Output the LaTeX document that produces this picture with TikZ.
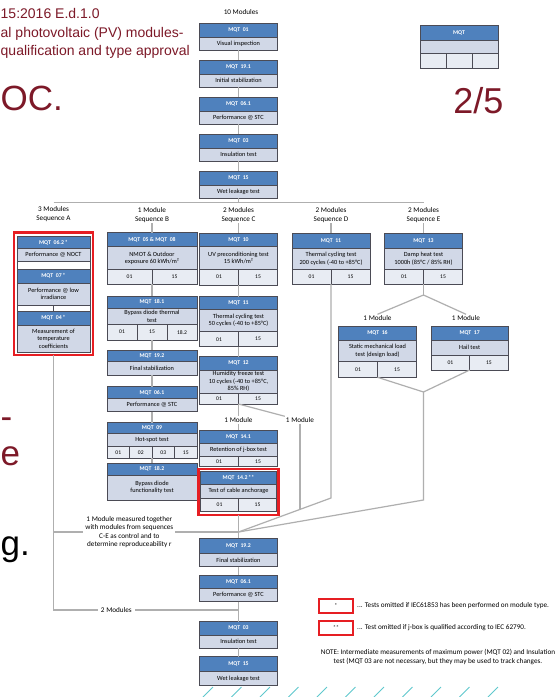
\documentclass[tikz,border=0pt]{standalone}
\usepackage{fontspec}
\setmainfont{Carlito}
\newfontfamily\slidefont{Liberation Sans}
\usetikzlibrary{positioning}

\definecolor{mqtblue}{RGB}{79,129,189}
\definecolor{mqtbody}{RGB}{209,216,231}
\definecolor{mqtcell}{RGB}{232,236,243}
\definecolor{mqtline}{RGB}{75,75,85}
\definecolor{linkgray}{RGB}{175,175,175}
\definecolor{omitred}{RGB}{230,30,35}
\definecolor{slidered}{RGB}{125,25,40}
\definecolor{stripe}{RGB}{95,200,205}

\newcommand\mqthdrfont{\fontsize{5.8}{6.4}\selectfont\bfseries}
\newcommand\mqtbodyfont{\fontsize{6.3}{7.3}\selectfont}
\newcommand\mqtcellfont{\fontsize{5.6}{6.2}\selectfont}
\newcommand\mqtlblfont{\fontsize{7.2}{8.4}\selectfont}

\tikzset{
  hdr/.style={draw=mqtline, line width=0.6pt, fill=mqtblue, text=white, font=\mqthdrfont,
    minimum width=#1, inner sep=0pt, outer sep=0pt},
  body/.style={draw=mqtline, line width=0.6pt, fill=mqtbody, font=\mqtbodyfont, align=center,
    minimum width=#1, inner sep=0pt, outer sep=0pt},
  cell/.style={draw=mqtline, line width=0.6pt, fill=mqtcell, font=\mqtcellfont,
    minimum width=#1, inner sep=0pt, outer sep=0pt},
  blank/.style={cell=#1, fill=white},
  lbl/.style={font=\mqtlblfont, align=center, inner sep=1pt},
  link/.style={draw=linkgray, line width=1.2pt},
  omitbox/.style={draw=omitred, line width=2.2pt, inner sep=0pt, outer sep=0pt},
  slide/.style={font=\slidefont, text=slidered, inner sep=0pt},
}

\begin{document}
\begin{tikzpicture}[x=1pt,y=-1pt]
\fill[white] (0,0) rectangle (560,697);
\useasboundingbox (0,0) rectangle (560,697);

% slide text behind the chart
\node[slide, font=\slidefont\fontsize{14}{16}\selectfont, anchor=base west] (hd1) at (0.5,18) {15:2016 E.d.1.0};
\node[slide, font=\slidefont\fontsize{14}{16}\selectfont, anchor=base west] (hd2) at (0.5,37) {al photovoltaic (PV) modules-};
\node[slide, font=\slidefont\fontsize{14}{16}\selectfont, anchor=base west] (hd3) at (0.5,55) {qualification and type approval};
\node[slide, font=\slidefont\fontsize{35}{40}\selectfont, anchor=base west] (hd4) at (0.5,110) {OC.};
\node[slide, font=\slidefont\fontsize{36}{40}\selectfont, anchor=base east] (page) at (503.5,113) {2/5};
\node[slide, font=\slidefont\fontsize{35}{40}\selectfont, anchor=base west] (cut1) at (0.5,428) {-};
\node[slide, font=\slidefont\fontsize{35}{40}\selectfont, anchor=base west] (cut2) at (0.5,465) {e};
\node[slide, font=\slidefont\fontsize{35}{40}\selectfont, text=black, anchor=base west] (cut3) at (0.5,555) {g.};

% legend box
\node[hdr=78pt, minimum height=15pt, anchor=north] (lg) at (459,25) {MQT};
\node[body=78pt, minimum height=13.3pt, below=0pt of lg] (lgb) {};
\node[cell=26pt, minimum height=15pt, anchor=north west] (lgc1) at (lgb.south west) {};
\node[cell=26pt, minimum height=15pt, right=0pt of lgc1] (lgc2) {};
\node[cell=26pt, minimum height=15pt, right=0pt of lgc2] (lgc3) {};

% common start
\node[lbl] (lab10) at (241,12) {10 Modules};
\node[hdr=78pt, minimum height=14pt, anchor=north] (t1) at (238.5,23) {MQT\ \ 01};
\node[body=78pt, minimum height=13pt, below=0pt of t1] (t1b) {Visual inspection};
\node[hdr=78pt, minimum height=14pt, anchor=north] (t2) at (238.5,60) {MQT\ \ 19.1};
\node[body=78pt, minimum height=13pt, below=0pt of t2] (t2b) {Initial stabilization};
\node[hdr=78pt, minimum height=14pt, anchor=north] (t3) at (238.5,97) {MQT\ \ 06.1};
\node[body=78pt, minimum height=13pt, below=0pt of t3] (t3b) {Performance @ STC};
\node[hdr=78pt, minimum height=14pt, anchor=north] (t4) at (238.5,134) {MQT\ \ 03};
\node[body=78pt, minimum height=13pt, below=0pt of t4] (t4b) {Insulation test};
\node[hdr=78pt, minimum height=14pt, anchor=north] (t5) at (238.5,171) {MQT\ \ 15};
\node[body=78pt, minimum height=13pt, below=0pt of t5] (t5b) {Wet leakage test};
\draw[link] (t1b) -- (t2);
\draw[link] (t2b) -- (t3);
\draw[link] (t3b) -- (t4);
\draw[link] (t4b) -- (t5);

\coordinate (fan) at (238.5,202.5);
\coordinate (fanA) at (53.5,202.5);
\coordinate (fanE) at (423.5,202.5);
\draw[link] (t5b) -- (fan);
\draw[link] (fanA) -- (fanE);

\node[lbl] (labA) at (53.5,214) {3 Modules\\Sequence A};
\node[lbl] (labB) at (152,215) {1 Module\\Sequence B};
\node[lbl] (labC) at (238.5,215) {2 Modules\\Sequence C};
\node[lbl] (labD) at (331,215) {2 Modules\\Sequence D};
\node[lbl] (labE) at (423.5,215) {2 Modules\\Sequence E};

% sequence A
\node[hdr=73pt, minimum height=12pt, anchor=north] (a1) at (53.5,236.5) {MQT\ \ 06.2\,*};
\node[body=73pt, minimum height=12.5pt, below=0pt of a1] (a1b) {Performance @ NOCT};
\node[blank=73pt, minimum height=8pt, below=0pt of a1b] (a1g) {};
\node[hdr=73pt, minimum height=14pt, below=0pt of a1g] (a2) {MQT\ \ 07\,*};
\node[body=73pt, minimum height=22pt, below=0pt of a2] (a2b) {Performance @ low\\irradiance};
\node[blank=36.5pt, minimum height=6.5pt, anchor=north west] (a2g1) at (a2b.south west) {};
\node[blank=36.5pt, minimum height=6.5pt, right=0pt of a2g1] (a2g2) {};
\node[hdr=73pt, minimum height=13.5pt, anchor=north] (a3) at (53.5,311.5) {MQT\ \ 04\,*};
\node[body=73pt, minimum height=27.5pt, below=0pt of a3] (a3b) {Measurement of\\temperature\\coefficients};
\node[omitbox, minimum width=79pt, minimum height=122.5pt, anchor=north] (aframe) at (53.5,232.5) {};

% sequence B
\node[hdr=90pt, minimum height=14pt, anchor=north] (b1) at (152,232.7) {MQT\ \ 05 \& MQT\ \ 08};
\node[body=90pt, minimum height=22.6pt, below=0pt of b1] (b1b) {NMOT \& Outdoor\\exposure 60 kWh/m²};
\node[cell=45pt, minimum height=14.7pt, anchor=north west] (b1c1) at (b1b.south west) {01};
\node[cell=45pt, minimum height=14.7pt, right=0pt of b1c1] (b1c2) {15};
\node[hdr=90pt, minimum height=12.3pt, anchor=north] (b2) at (152,296) {MQT\ \ 18.1};
\node[body=90pt, minimum height=16pt, below=0pt of b2] (b2b) {Bypass diode thermal\\test};
\node[cell=30pt, minimum height=15.7pt, anchor=north west] (b2c1) at (b2b.south west) {01};
\node[cell=30pt, minimum height=15.7pt, right=0pt of b2c1] (b2c2) {15};
\node[cell=30pt, minimum height=15.7pt, right=0pt of b2c2] (b2c3) {18.2};
\node[hdr=90pt, minimum height=11.7pt, anchor=north] (b3) at (152,350) {MQT\ \ 19.2};
\node[body=90pt, minimum height=13.3pt, below=0pt of b3] (b3b) {Final stabilization};
\node[hdr=90pt, minimum height=11.7pt, anchor=north] (b4) at (152,386.7) {MQT\ \ 06.1};
\node[body=90pt, minimum height=13.3pt, below=0pt of b4] (b4b) {Performance @ STC};
\node[hdr=90pt, minimum height=10.7pt, anchor=north] (b5) at (152,422.7) {MQT\ \ 09};
\node[body=90pt, minimum height=13.3pt, below=0pt of b5] (b5b) {Hot-spot test};
\node[cell=22.5pt, minimum height=11.6pt, anchor=north west] (b5c1) at (b5b.south west) {01};
\node[cell=22.5pt, minimum height=11.6pt, right=0pt of b5c1] (b5c2) {02};
\node[cell=22.5pt, minimum height=11.6pt, right=0pt of b5c2] (b5c3) {03};
\node[cell=22.5pt, minimum height=11.6pt, right=0pt of b5c3] (b5c4) {15};
\node[hdr=90pt, minimum height=11.7pt, anchor=north] (b6) at (152,463.3) {MQT\ \ 18.2};
\node[body=90pt, minimum height=25pt, below=0pt of b6] (b6b) {Bypass diode\\functionality test};
\draw[link] (labB) -- (b1);
\draw[link] (b1c1.south east) -- (b2);
\draw[link] (b2c2) -- (b3);
\draw[link] (b3b) -- (b4);
\draw[link] (b4b) -- (b5);
\draw[link] (b5c2.south east) -- (b6);

% sequence C
\node[hdr=78pt, minimum height=13.4pt, anchor=north] (c1) at (238.5,233.3) {MQT\ \ 10};
\node[body=78pt, minimum height=22.6pt, below=0pt of c1] (c1b) {UV preconditioning test\\15 kWh/m²};
\node[cell=39pt, minimum height=15.7pt, anchor=north west] (c1c1) at (c1b.south west) {01};
\node[cell=39pt, minimum height=15.7pt, right=0pt of c1c1] (c1c2) {15};
\node[hdr=78pt, minimum height=12.6pt, anchor=north] (c2) at (238.5,296.7) {MQT\ \ 11};
\node[body=78pt, minimum height=22.4pt, below=0pt of c2] (c2b) {Thermal cycling test\\50 cycles (-40 to +85°C)};
\node[cell=39pt, minimum height=15pt, anchor=north west] (c2c1) at (c2b.south west) {01};
\node[cell=39pt, minimum height=15pt, right=0pt of c2c1] (c2c2) {15};
\node[hdr=78pt, minimum height=13.3pt, anchor=north] (c3) at (238.5,356.7) {MQT\ \ 12};
\node[body=78pt, minimum height=23pt, below=0pt of c3] (c3b) {Humidity freeze test\\10 cycles (-40 to +85°C,\\85\% RH)};
\node[cell=39pt, minimum height=11pt, anchor=north west] (c3c1) at (c3b.south west) {01};
\node[cell=39pt, minimum height=11pt, right=0pt of c3c1] (c3c2) {15};
\node[lbl] (labC4) at (238.5,420) {1 Module};
\node[lbl] (labCr) at (300,420) {1 Module};
\node[hdr=78pt, minimum height=13.3pt, anchor=north] (c4) at (238.5,430) {MQT\ \ 14.1};
\node[body=78pt, minimum height=13.4pt, below=0pt of c4] (c4b) {Retention of j-box test};
\node[cell=39pt, minimum height=10pt, anchor=north west] (c4c1) at (c4b.south west) {01};
\node[cell=39pt, minimum height=10pt, right=0pt of c4c1] (c4c2) {15};
\node[hdr=76pt, minimum height=12.5pt, anchor=north] (c5) at (238.5,471.5) {MQT\ \ 14.2\,**};
\node[body=76pt, minimum height=14pt, below=0pt of c5] (c5b) {Test of cable anchorage};
\node[cell=38pt, minimum height=13pt, anchor=north west] (c5c1) at (c5b.south west) {01};
\node[cell=38pt, minimum height=13pt, right=0pt of c5c1] (c5c2) {15};
\node[omitbox, minimum width=80pt, minimum height=46pt, anchor=north] (c5frame) at (238.5,469) {};
\draw[link] (labC) -- (c1);
\draw[link] (c1c1.south east) -- (c2);
\draw[link] (c2c1.south east) -- (c3);
\draw[link] (c3c1.south east) -- (labC4) -- (c4);
\draw[link] (c3c1.south east) -- (labCr.north west);

% sequence D
\node[hdr=78pt, minimum height=15pt, anchor=north] (d1) at (331,233.3) {MQT\ \ 11};
\node[body=78pt, minimum height=21pt, below=0pt of d1] (d1b) {Thermal cycling test\\200 cycles (-40 to +85°C)};
\node[cell=39pt, minimum height=14.7pt, anchor=north west] (d1c1) at (d1b.south west) {01};
\node[cell=39pt, minimum height=14.7pt, right=0pt of d1c1] (d1c2) {15};
\draw[link] (labD) -- (d1);

% sequence E
\node[hdr=78pt, minimum height=15pt, anchor=north] (e1) at (423.5,233.3) {MQT\ \ 13};
\node[body=78pt, minimum height=21pt, below=0pt of e1] (e1b) {Damp heat test\\1000h (85°C / 85\% RH)};
\node[cell=39pt, minimum height=14.7pt, anchor=north west] (e1c1) at (e1b.south west) {01};
\node[cell=39pt, minimum height=14.7pt, right=0pt of e1c1] (e1c2) {15};
\draw[link] (labE) -- (e1);

\node[lbl] (lab16) at (377.5,318) {1 Module};
\node[lbl] (lab17) at (466,318) {1 Module};
\node[hdr=78pt, minimum height=14pt, anchor=north] (m16) at (377.5,326) {MQT\ \ 16};
\node[body=78pt, minimum height=21.7pt, below=0pt of m16] (m16b) {Static mechanical load\\test (design load)};
\node[cell=39pt, minimum height=15.6pt, anchor=north west] (m16c1) at (m16b.south west) {01};
\node[cell=39pt, minimum height=15.6pt, right=0pt of m16c1] (m16c2) {15};
\node[hdr=77pt, minimum height=14pt, anchor=north] (m17) at (469.7,326) {MQT\ \ 17};
\node[body=77pt, minimum height=15pt, below=0pt of m17] (m17b) {Hail test};
\node[cell=38.5pt, minimum height=15pt, anchor=north west] (m17c1) at (m17b.south west) {01};
\node[cell=38.5pt, minimum height=15pt, right=0pt of m17c1] (m17c2) {15};

\coordinate (esplit) at (423.5,295);
\coordinate (emerge) at (423.5,392);
\draw[link] (e1c1.south east) -- (esplit);
\draw[link] (lab16.north) -- (esplit) -- (lab17.north);
\draw[link] (m16c1.south east) -- (emerge) -- (m17c1.south east);

% final sequence
\coordinate (j1) at (238.5,532);
\coordinate (j2) at (238.5,610);
\coordinate (dturn) at (331,498);
\coordinate (eturn) at (423.5,500);
\coordinate (dmeet) at (300,509.4);
\draw[link] (d1c1.south east) -- (dturn) -- (j1);
\draw[link] (emerge) -- (eturn) -- (j1);
\draw[link] (labCr) -- (dmeet);

\node[hdr=78pt, minimum height=15pt, anchor=north] (f1) at (238.5,538) {MQT\ \ 19.2};
\node[body=78pt, minimum height=13.7pt, below=0pt of f1] (f1b) {Final stabilization};
\node[hdr=78pt, minimum height=13.3pt, anchor=north] (f2) at (238.5,575) {MQT\ \ 06.1};
\node[body=78pt, minimum height=13.4pt, below=0pt of f2] (f2b) {Performance @ STC};
\node[hdr=78pt, minimum height=13.3pt, anchor=north] (f3) at (238.5,621.7) {MQT\ \ 03};
\node[body=78pt, minimum height=13.3pt, below=0pt of f3] (f3b) {Insulation test};
\node[hdr=78pt, minimum height=15pt, anchor=north] (f4) at (238.5,656.7) {MQT\ \ 15};
\node[body=78pt, minimum height=13.3pt, below=0pt of f4] (f4b) {Wet leakage test};
\draw[link] (c5frame) -- (j1) -- (f1);
\draw[link] (f1b) -- (f2);
\draw[link] (f2b) -- (f3);
\draw[link] (f3b) -- (f4);

\coordinate (abranch) at (53.5,532);
\draw[link] (aframe) |- node[pos=0.67, lbl, fill=white, inner sep=3pt] (lab2m) {2 Modules} (j2);
\draw[link] (abranch) -- node[pos=0.41, lbl, fill=white, inner sep=2pt] (labctrl)
  {1 Module measured together\\with modules from sequences\\C-E as control and to\\determine reproduceability \textit{r}} (j1);

% omitted-test legend
\node[omitbox, minimum width=34pt, minimum height=14pt, font=\mqtcellfont] (leg1) at (336,606) {*};
\node[lbl, anchor=west] (leg1t) at (356,606) {... Tests omitted if IEC61853 has been performed on module type.};
\node[omitbox, minimum width=34pt, minimum height=14pt, font=\mqtcellfont] (leg2) at (336,627.8) {**};
\node[lbl, anchor=west] (leg2t) at (356,627.8) {... Test omitted if j-box is qualified according to IEC 62790.};
\node[lbl] (note) at (438,657) {NOTE: Intermediate measurements of maximum power (MQT 02) and Insulation\\test (MQT 03 are not necessary, but they may be used to track changes.};

% slide decoration
\foreach \sx in {0,...,10}
  \draw[stripe, line width=0.8pt] (203+28.5*\sx,697) -- ++(10,-10);
\end{tikzpicture}
\end{document}
